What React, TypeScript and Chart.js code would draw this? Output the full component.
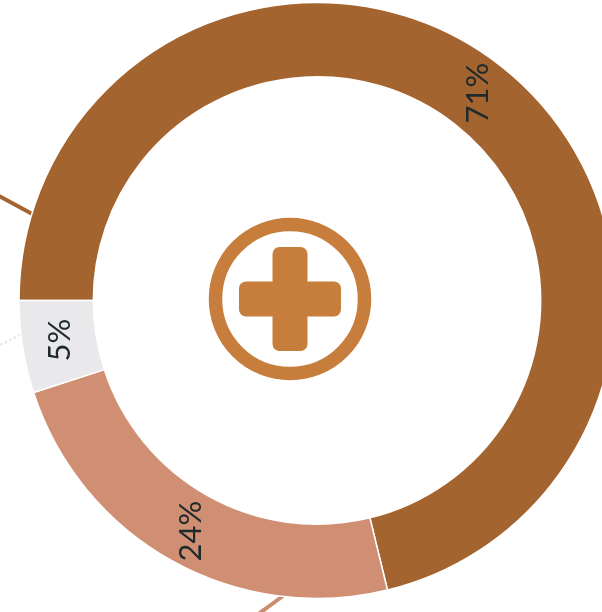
import React, { useEffect, useRef } from "react";
import { Chart, registerables } from "chart.js";

Chart.register(...registerables);

const categories = ["A", "B", "C"];
const values = [71.2, 23.8, 5];
const labels = ["71%", "24%", "5%"];
const colors = ["#A4642F", "#D08F72", "#E9E9EC"];
const labelCenters = [
  { x: 478, y: 93 },
  { x: 191, y: 531 },
  { x: 60, y: 340 },
];
const leaders = [
  { x1: -1, y1: 196, x2: 36, y2: 216, color: "#A4642F", w: 4, dash: [] as number[] },
  { x1: 257, y1: 615, x2: 283, y2: 596, color: "#CC8C70", w: 4, dash: [] as number[] },
  { x1: 0, y1: 345, x2: 24, y2: 333, color: "#EBEBEE", w: 2.5, dash: [3, 2] },
];

const decorations = {
  id: "decorations",
  beforeDatasetsDraw(chart: any) {
    const c = chart.ctx;
    c.save();
    for (const l of leaders) {
      c.strokeStyle = l.color;
      c.lineWidth = l.w;
      c.setLineDash(l.dash);
      c.beginPath();
      c.moveTo(l.x1, l.y1);
      c.lineTo(l.x2, l.y2);
      c.stroke();
    }
    c.restore();
  },
  afterDatasetsDraw(chart: any) {
    const c = chart.ctx;
    c.save();
    // centre icon
    const ic = "#C77E3C";
    c.strokeStyle = ic;
    c.fillStyle = ic;
    c.lineWidth = 13.5;
    c.beginPath();
    c.arc(290, 299, 74.5, 0, Math.PI * 2);
    c.stroke();
    c.beginPath();
    c.roundRect(272.5, 247, 35, 104, 7);
    c.fill();
    c.beginPath();
    c.roundRect(239, 281.5, 102, 35, 7);
    c.fill();
    // labels
    c.fillStyle = "#1E2A2C";
    c.font = '31px "Lato"';
    c.textAlign = "center";
    c.textBaseline = "middle";
    labels.forEach((t, i) => {
      c.save();
      c.translate(labelCenters[i].x, labelCenters[i].y);
      c.rotate(-Math.PI / 2);
      c.fillText(t, 0, 0);
      c.restore();
    });
    c.restore();
  },
};

export default function App() {
  const ref = useRef<HTMLCanvasElement>(null);
  useEffect(() => {
    const chart = new Chart(ref.current!, {
      type: "doughnut",
      data: {
        labels: categories,
        datasets: [
          {
            data: values,
            backgroundColor: colors,
            borderColor: "#FFFFFF",
            borderWidth: 1.5,
          },
        ],
      },
      options: {
        responsive: false,
        animation: false,
        rotation: -90,
        radius: 298,
        cutout: 225,
        layout: { padding: { bottom: 11 } },
        plugins: { legend: { display: false }, tooltip: { enabled: false } },
      },
      plugins: [decorations],
    });
    return () => chart.destroy();
  }, []);
  return (
    <div style={{ position: "fixed", left: 0, top: 0, width: 602, height: 612, overflow: "hidden", background: "#fff" }}>
      <canvas ref={ref} width={634} height={612} style={{ display: "block", width: 634, height: 612 }} />
    </div>
  );
}
